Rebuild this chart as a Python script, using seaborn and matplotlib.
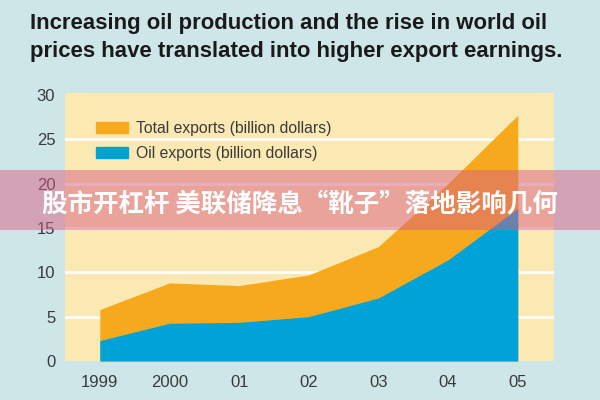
import matplotlib
matplotlib.use("Agg")
import matplotlib.pyplot as plt
import matplotlib.patches as mpatches
import seaborn as sns

# data (billion dollars)
years = ["1999", "2000", "01", "02", "03", "04", "05"]
total_exports = [5.8, 8.8, 8.5, 9.7, 12.9, 20.0, 27.7]
oil_exports = [2.3, 4.25, 4.35, 5.0, 7.1, 11.4, 17.2]
y_ticks = [0, 5, 10, 15, 20, 25, 30]

title_lines = ["Increasing oil production and the rise in world oil",
               "prices have translated into higher export earnings."]
banner = "股市开杠杆 美联储降息“靴子”落地影响几何"

bg = "#cfe6e8"
plot_bg = "#fbe9b4"
orange = "#f6a91c"
blue = "#00a2d8"
text_col = "#3a3a3a"

sns.set_style("white")
plt.rcParams["font.family"] = ["Liberation Sans", "DejaVu Sans"]

fig = plt.figure(figsize=(6, 4), dpi=100, facecolor=bg)
ax = fig.add_axes([0.1083, 0.0975, 0.815, 0.67])
ax.set_facecolor(plot_bg)

x = list(range(len(years)))
for yv in y_ticks[1:-1]:
    ax.axhline(yv, color="white", lw=1.9, zorder=1)
ax.fill_between(x, 0, total_exports, color=orange, lw=0, zorder=2)
ax.fill_between(x, 0, oil_exports, color=blue, lw=0, zorder=3)

ax.set_xlim(-0.5, 6.52)
ax.set_ylim(0, 30.2)
ax.set_xticks(x)
ax.set_xticklabels(years)
ax.set_yticks(y_ticks)
for s in ax.spines.values():
    s.set_visible(False)
ax.tick_params(axis="x", length=5, width=1, color="#333333", direction="out",
               labelsize=12, labelcolor=text_col, pad=5)
ax.tick_params(axis="y", length=0, labelsize=12, labelcolor=text_col, pad=7)

handles = [mpatches.Patch(color=orange, label="Total exports (billion dollars)"),
           mpatches.Patch(color=blue, label="Oil exports (billion dollars)")]
leg = ax.legend(handles=handles, loc="upper left", bbox_to_anchor=(0.048, 0.925),
                frameon=False, fontsize=11.3, handlelength=2.05, handleheight=0.65,
                handletextpad=0.45, labelspacing=0.65, borderpad=0)
for t in leg.get_texts():
    t.set_color(text_col)

# title, sized so the first line spans about 518 px
renderer = fig.canvas.get_renderer()
t1 = fig.text(0.05, 0.968, title_lines[0], fontsize=14, fontweight="bold",
              color="#1a1a1a", va="top", ha="left")
w = t1.get_window_extent(renderer).width
fs = 14 * 518 / w
t1.set_fontsize(fs)
fig.text(0.05, 0.898, title_lines[1], fontsize=fs, fontweight="bold",
         color="#1a1a1a", va="top", ha="left")

# pink banner across the middle
fig.patches.append(mpatches.Rectangle((0, 0.425), 1, 0.15, transform=fig.transFigure,
                                      facecolor="#d95f84", alpha=0.5, lw=0, zorder=5))
fig.text(0.5, 0.49, banner, fontsize=18.4, fontweight="bold", color="white",
         ha="center", va="center", family=["Noto Sans CJK SC", "DejaVu Sans"], zorder=6)

fig.savefig("out.png", dpi=100, facecolor=bg)
